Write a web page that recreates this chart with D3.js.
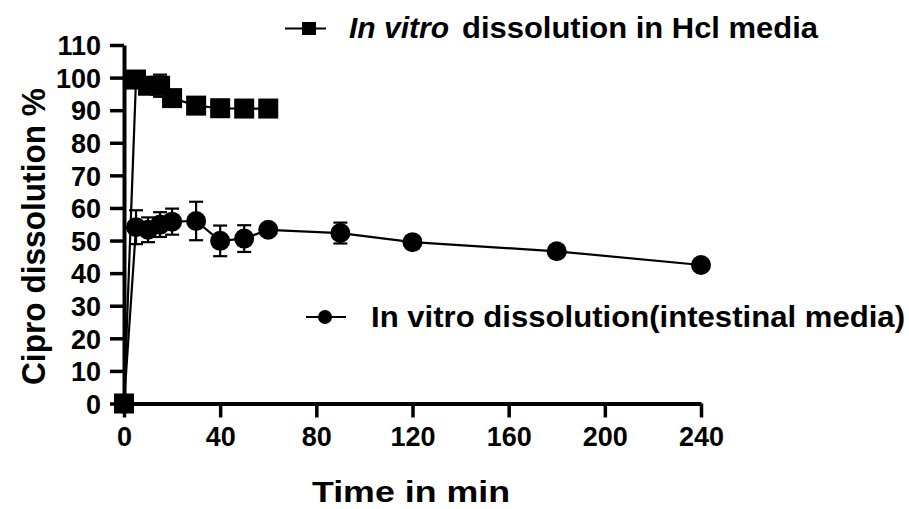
<!DOCTYPE html>
<html>
<head>
<meta charset="utf-8">
<script src="https://cdn.jsdelivr.net/npm/d3@7"></script>
<style>
  body { margin: 0; background: #fff; }
  svg { display: block; font-family: "Liberation Sans", Arial, sans-serif; }
</style>
</head>
<body>
<svg id="chart" width="909" height="509"></svg>
<script>
// ---- data ----
const hclTime = [0, 5, 10, 15, 20, 30, 40, 50, 60];
const hclMean = [0, 99.4, 97.5, 97.5, 93.7, 91.4, 90.6, 90.5, 90.5];
const hclSD   = [0, 0.5, 1.0, 3.4, 0.5, 0.5, 0.5, 0.5, 0.5];

const intTime = [0, 5, 10, 15, 20, 30, 40, 50, 60, 90, 120, 180, 240];
const intMean = [0, 54.1, 53.3, 54.9, 55.8, 56.0, 49.9, 50.6, 53.3, 52.3, 49.5, 46.7, 42.5];
const intSD   = [0, 5.2, 3.8, 3.8, 4.0, 5.9, 4.7, 4.1, 0.5, 3.2, 0.5, 0.5, 0.5];

const xTicks = [0, 40, 80, 120, 160, 200, 240];
const yTicks = [0, 10, 20, 30, 40, 50, 60, 70, 80, 90, 100, 110];

const xTitle = "Time in min";
const yTitle = "Cipro dissolution %";
const legendHcl = ["In vitro", "dissolution in Hcl media"];
const legendInt = "In vitro dissolution(intestinal media)";

// ---- drawing ----
const svg = d3.select("#chart");
const x = d3.scaleLinear().domain([0, 240]).range([124, 701]);
const y = d3.scaleLinear().domain([0, 110]).range([403.5, 45]);

// axes
const yAxis = svg.append("g")
  .attr("transform", `translate(${x(0)},0)`)
  .call(d3.axisLeft(y).tickValues(yTicks).tickSize(14).tickPadding(9).tickSizeOuter(0));
const xAxis = svg.append("g")
  .attr("transform", `translate(0,${y(0)})`)
  .call(d3.axisBottom(x).tickValues(xTicks).tickSize(14).tickPadding(7).tickSizeOuter(0));

[yAxis, xAxis].forEach(g => {
  g.select(".domain").attr("stroke", "#000").attr("stroke-width", 4);
  g.selectAll(".tick line").attr("stroke", "#000").attr("stroke-width", 3.5);
  g.selectAll(".tick text")
    .attr("fill", "#000")
    .style("font-size", "27px")
    .style("font-weight", "bold")
    .style("font-family", '"Liberation Sans", Arial, sans-serif');
});
yAxis.selectAll(".tick text").attr("dy", "0.36em");
xAxis.selectAll(".tick text").attr("dy", "0.78em");

// line generator
const line = d3.line().x(d => x(d[0])).y(d => y(d[1]));

function drawSeries(times, means, sds, shape) {
  const pts = times.map((t, i) => [t, means[i], sds[i]]);
  svg.append("path").datum(pts)
    .attr("d", line).attr("fill", "none")
    .attr("stroke", "#000").attr("stroke-width", 2.2);
  // error bars
  const eb = svg.append("g").attr("stroke", "#000").attr("stroke-width", 2.2);
  pts.filter(p => p[2] > 1).forEach(p => {
    const cx = x(p[0]);
    eb.append("line").attr("x1", cx).attr("x2", cx).attr("y1", y(p[1] + p[2])).attr("y2", y(p[1] - p[2]));
    eb.append("line").attr("x1", cx - 7).attr("x2", cx + 7).attr("y1", y(p[1] + p[2])).attr("y2", y(p[1] + p[2]));
    eb.append("line").attr("x1", cx - 7).attr("x2", cx + 7).attr("y1", y(p[1] - p[2])).attr("y2", y(p[1] - p[2]));
  });
  const g = svg.append("g");
  if (shape === "square") {
    g.selectAll("rect").data(pts).join("rect")
      .attr("x", d => x(d[0]) - 10).attr("y", d => y(d[1]) - 10)
      .attr("width", 20).attr("height", 20).attr("fill", "#000");
  } else {
    g.selectAll("circle").data(pts).join("circle")
      .attr("cx", d => x(d[0])).attr("cy", d => y(d[1]))
      .attr("r", 10).attr("fill", "#000");
  }
}
drawSeries(intTime, intMean, intSD, "circle");
drawSeries(hclTime, hclMean, hclSD, "square");

// axis titles
svg.append("text")
  .attr("x", 312).attr("y", 502)
  .attr("textLength", 198).attr("lengthAdjust", "spacingAndGlyphs")
  .style("font-size", "30px").style("font-weight", "bold")
  .text(xTitle);
svg.append("text")
  .attr("transform", "translate(45,385) rotate(-90)")
  .attr("textLength", 297).attr("lengthAdjust", "spacingAndGlyphs")
  .style("font-size", "34px").style("font-weight", "bold")
  .text(yTitle);

// legends
const lg1 = svg.append("g");
lg1.append("line").attr("x1", 285).attr("x2", 326).attr("y1", 28.5).attr("y2", 28.5)
  .attr("stroke", "#000").attr("stroke-width", 2);
lg1.append("rect").attr("x", 302).attr("y", 22).attr("width", 14).attr("height", 13).attr("fill", "#000");
lg1.append("text").attr("x", 349).attr("y", 38)
  .attr("textLength", 100).attr("lengthAdjust", "spacingAndGlyphs")
  .style("font-size", "29px").style("font-weight", "bold").style("font-style", "italic")
  .text(legendHcl[0]);
lg1.append("text").attr("x", 462).attr("y", 38)
  .attr("textLength", 356).attr("lengthAdjust", "spacingAndGlyphs")
  .style("font-size", "29px").style("font-weight", "bold")
  .text(legendHcl[1]);

const lg2 = svg.append("g");
lg2.append("line").attr("x1", 306).attr("x2", 346).attr("y1", 317).attr("y2", 317)
  .attr("stroke", "#000").attr("stroke-width", 2);
lg2.append("circle").attr("cx", 325).attr("cy", 317).attr("r", 7).attr("fill", "#000");
lg2.append("text").attr("x", 371).attr("y", 327)
  .attr("textLength", 534).attr("lengthAdjust", "spacingAndGlyphs")
  .style("font-size", "29px").style("font-weight", "bold")
  .text(legendInt);
</script>
</body>
</html>
